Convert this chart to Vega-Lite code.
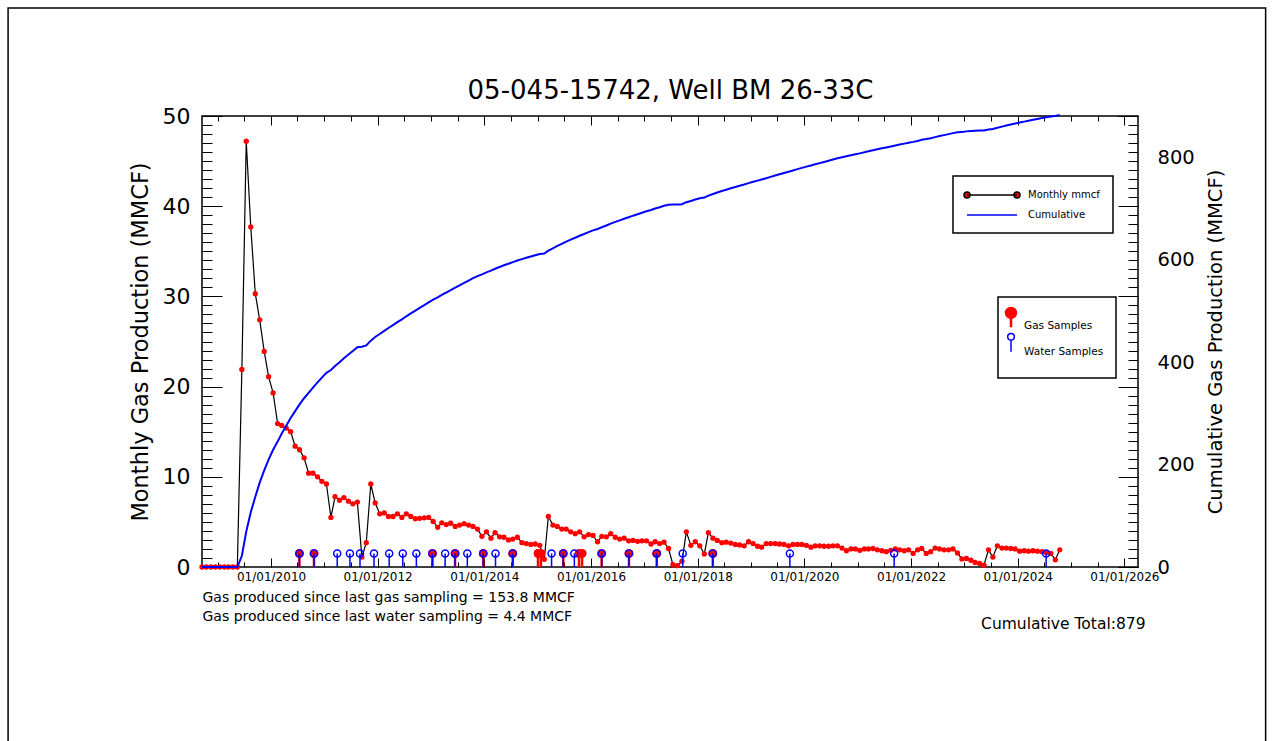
{
  "$schema": "https://vega.github.io/schema/vega-lite/v6.json",
  "width": 936,
  "height": 451,
  "autosize": {"type": "none"},
  "padding": {"left": 202, "top": 116, "right": 136, "bottom": 174},
  "background": "white",
  "datasets": {
    "m": [
      {"d":"2008-09-15","g":0,"c":0},{"d":"2008-10-15","g":0,"c":0},{"d":"2008-11-15","g":0,"c":0},{"d":"2008-12-15","g":0,"c":0},
      {"d":"2009-01-15","g":0,"c":0},{"d":"2009-02-15","g":0,"c":0},{"d":"2009-03-15","g":0,"c":0},{"d":"2009-04-15","g":0,"c":0},{"d":"2009-05-15","g":0,"c":0},
      {"d":"2009-06-15","g":21.9,"c":21.9},{"d":"2009-07-15","g":47.2,"c":69.1},{"d":"2009-08-15","g":37.7,"c":106.8},{"d":"2009-09-15","g":30.3,"c":137.1},
      {"d":"2009-10-15","g":27.4,"c":164.5},{"d":"2009-11-15","g":23.9,"c":188.4},{"d":"2009-12-15","g":21.1,"c":209.5},
      {"d":"2010-01-15","g":19.3,"c":228.8},{"d":"2010-02-15","g":15.9,"c":244.7},{"d":"2010-03-15","g":15.7,"c":260.4},{"d":"2010-04-15","g":15.4,"c":275.8},
      {"d":"2010-05-15","g":15.0,"c":290.8},{"d":"2010-06-15","g":13.4,"c":304.2},{"d":"2010-07-15","g":13.0,"c":317.2},{"d":"2010-08-15","g":12.1,"c":329.3},
      {"d":"2010-09-15","g":10.4,"c":339.7},{"d":"2010-10-15","g":10.4,"c":350.1},{"d":"2010-11-15","g":10.0,"c":360.1},{"d":"2010-12-15","g":9.5,"c":369.6},
      {"d":"2011-01-15","g":9.2,"c":378.8},{"d":"2011-02-15","g":5.5,"c":384.3},{"d":"2011-03-15","g":7.8,"c":392.1},{"d":"2011-04-15","g":7.4,"c":399.5},
      {"d":"2011-05-15","g":7.7,"c":407.2},{"d":"2011-06-15","g":7.3,"c":414.5},{"d":"2011-07-15","g":7.0,"c":421.5},{"d":"2011-08-15","g":7.2,"c":428.7},
      {"d":"2011-09-15","g":1.1,"c":429.8},{"d":"2011-10-15","g":2.7,"c":432.5},{"d":"2011-11-15","g":9.2,"c":441.7},{"d":"2011-12-15","g":7.1,"c":448.8},
      {"d":"2012-01-15","g":5.9,"c":454.7},{"d":"2012-02-15","g":6.0,"c":460.7},{"d":"2012-03-15","g":5.6,"c":466.3},{"d":"2012-04-15","g":5.6,"c":471.9},
      {"d":"2012-05-15","g":5.9,"c":477.8},{"d":"2012-06-15","g":5.5,"c":483.3},{"d":"2012-07-15","g":5.9,"c":489.2},{"d":"2012-08-15","g":5.6,"c":494.8},
      {"d":"2012-09-15","g":5.35,"c":500.2},{"d":"2012-10-15","g":5.4,"c":505.6},{"d":"2012-11-15","g":5.45,"c":511.0},{"d":"2012-12-15","g":5.5,"c":516.5},
      {"d":"2013-01-15","g":5.05,"c":521.6},{"d":"2013-02-15","g":4.4,"c":526.0},{"d":"2013-03-15","g":4.9,"c":530.9},{"d":"2013-04-15","g":4.7,"c":535.6},
      {"d":"2013-05-15","g":4.85,"c":540.4},{"d":"2013-06-15","g":4.5,"c":544.9},{"d":"2013-07-15","g":4.65,"c":549.6},{"d":"2013-08-15","g":4.8,"c":554.4},
      {"d":"2013-09-15","g":4.65,"c":559.0},{"d":"2013-10-15","g":4.5,"c":563.5},{"d":"2013-11-15","g":4.2,"c":567.7},{"d":"2013-12-15","g":3.4,"c":571.1},
      {"d":"2014-01-15","g":3.9,"c":575.0},{"d":"2014-02-15","g":3.2,"c":578.2},{"d":"2014-03-15","g":3.8,"c":582.0},{"d":"2014-04-15","g":3.35,"c":585.4},
      {"d":"2014-05-15","g":3.3,"c":588.7},{"d":"2014-06-15","g":3.0,"c":591.7},{"d":"2014-07-15","g":3.1,"c":594.8},{"d":"2014-08-15","g":3.3,"c":598.1},
      {"d":"2014-09-15","g":2.7,"c":600.8},{"d":"2014-10-15","g":2.6,"c":603.4},{"d":"2014-11-15","g":2.5,"c":605.9},{"d":"2014-12-15","g":2.55,"c":608.4},
      {"d":"2015-01-15","g":2.4,"c":610.8},{"d":"2015-02-15","g":0.85,"c":611.7},{"d":"2015-03-15","g":5.6,"c":617.3},{"d":"2015-04-15","g":4.65,"c":621.9},
      {"d":"2015-05-15","g":4.5,"c":626.4},{"d":"2015-06-15","g":4.2,"c":630.6},{"d":"2015-07-15","g":4.2,"c":634.8},{"d":"2015-08-15","g":3.9,"c":638.7},
      {"d":"2015-09-15","g":3.7,"c":642.4},{"d":"2015-10-15","g":3.9,"c":646.3},{"d":"2015-11-15","g":3.35,"c":649.7},{"d":"2015-12-15","g":3.6,"c":653.3},
      {"d":"2016-01-15","g":3.5,"c":656.8},{"d":"2016-02-15","g":2.8,"c":659.6},{"d":"2016-03-15","g":3.4,"c":663.0},{"d":"2016-04-15","g":3.35,"c":666.3},
      {"d":"2016-05-15","g":3.7,"c":670.0},{"d":"2016-06-15","g":3.3,"c":673.3},{"d":"2016-07-15","g":3.1,"c":676.4},{"d":"2016-08-15","g":3.2,"c":679.6},
      {"d":"2016-09-15","g":2.9,"c":682.5},{"d":"2016-10-15","g":2.95,"c":685.5},{"d":"2016-11-15","g":2.85,"c":688.3},{"d":"2016-12-15","g":2.9,"c":691.2},
      {"d":"2017-01-15","g":2.9,"c":694.1},{"d":"2017-02-15","g":2.55,"c":696.7},{"d":"2017-03-15","g":2.8,"c":699.5},{"d":"2017-04-15","g":2.6,"c":702.1},
      {"d":"2017-05-15","g":2.75,"c":704.8},{"d":"2017-06-15","g":2.05,"c":706.9},{"d":"2017-07-15","g":0.25,"c":707.1},{"d":"2017-08-15","g":0.15,"c":707.3},
      {"d":"2017-09-15","g":0.65,"c":707.9},{"d":"2017-10-15","g":3.9,"c":711.8},{"d":"2017-11-15","g":2.4,"c":714.2},{"d":"2017-12-15","g":2.8,"c":717.0},
      {"d":"2018-01-15","g":2.35,"c":719.4},{"d":"2018-02-15","g":1.45,"c":720.8},{"d":"2018-03-15","g":3.8,"c":724.6},{"d":"2018-04-15","g":3.2,"c":727.8},
      {"d":"2018-05-15","g":2.95,"c":730.8},{"d":"2018-06-15","g":2.7,"c":733.5},{"d":"2018-07-15","g":2.75,"c":736.2},{"d":"2018-08-15","g":2.65,"c":738.9},
      {"d":"2018-09-15","g":2.5,"c":741.4},{"d":"2018-10-15","g":2.45,"c":743.8},{"d":"2018-11-15","g":2.35,"c":746.2},{"d":"2018-12-15","g":2.8,"c":749.0},
      {"d":"2019-01-15","g":2.6,"c":751.6},{"d":"2019-02-15","g":2.3,"c":753.9},{"d":"2019-03-15","g":2.2,"c":756.1},{"d":"2019-04-15","g":2.6,"c":758.7},
      {"d":"2019-05-15","g":2.6,"c":761.3},{"d":"2019-06-15","g":2.6,"c":763.9},{"d":"2019-07-15","g":2.55,"c":766.4},{"d":"2019-08-15","g":2.5,"c":768.9},
      {"d":"2019-09-15","g":2.35,"c":771.3},{"d":"2019-10-15","g":2.5,"c":773.8},{"d":"2019-11-15","g":2.5,"c":776.3},{"d":"2019-12-15","g":2.5,"c":778.8},
      {"d":"2020-01-15","g":2.4,"c":781.2},{"d":"2020-02-15","g":2.2,"c":783.4},{"d":"2020-03-15","g":2.35,"c":785.7},{"d":"2020-04-15","g":2.35,"c":788.1},
      {"d":"2020-05-15","g":2.3,"c":790.4},{"d":"2020-06-15","g":2.3,"c":792.7},{"d":"2020-07-15","g":2.35,"c":795.0},{"d":"2020-08-15","g":2.35,"c":797.4},
      {"d":"2020-09-15","g":2.1,"c":799.5},{"d":"2020-10-15","g":1.8,"c":801.3},{"d":"2020-11-15","g":2.0,"c":803.3},{"d":"2020-12-15","g":2.0,"c":805.3},
      {"d":"2021-01-15","g":1.85,"c":807.1},{"d":"2021-02-15","g":2.0,"c":809.1},{"d":"2021-03-15","g":2.0,"c":811.1},{"d":"2021-04-15","g":2.05,"c":813.2},
      {"d":"2021-05-15","g":1.9,"c":815.1},{"d":"2021-06-15","g":1.8,"c":816.9},{"d":"2021-07-15","g":1.7,"c":818.6},{"d":"2021-08-15","g":1.85,"c":820.4},
      {"d":"2021-09-15","g":2.0,"c":822.4},{"d":"2021-10-15","g":1.9,"c":824.3},{"d":"2021-11-15","g":1.8,"c":826.1},{"d":"2021-12-15","g":1.9,"c":828.0},
      {"d":"2022-01-15","g":1.5,"c":829.5},{"d":"2022-02-15","g":1.9,"c":831.4},{"d":"2022-03-15","g":2.05,"c":833.5},{"d":"2022-04-15","g":1.5,"c":835.0},
      {"d":"2022-05-15","g":1.7,"c":836.7},{"d":"2022-06-15","g":2.1,"c":838.8},{"d":"2022-07-15","g":2.0,"c":840.8},{"d":"2022-08-15","g":1.9,"c":842.7},
      {"d":"2022-09-15","g":1.9,"c":844.6},{"d":"2022-10-15","g":2.0,"c":846.6},{"d":"2022-11-15","g":1.55,"c":848.1},{"d":"2022-12-15","g":0.9,"c":849.0},
      {"d":"2023-01-15","g":0.95,"c":850.0},{"d":"2023-02-15","g":0.75,"c":850.7},{"d":"2023-03-15","g":0.5,"c":851.2},{"d":"2023-04-15","g":0.4,"c":851.6},
      {"d":"2023-05-15","g":0.2,"c":851.8},{"d":"2023-06-15","g":1.9,"c":853.7},{"d":"2023-07-15","g":1.1,"c":854.8},{"d":"2023-08-15","g":2.35,"c":857.2},
      {"d":"2023-09-15","g":2.1,"c":859.3},{"d":"2023-10-15","g":2.1,"c":861.4},{"d":"2023-11-15","g":2.05,"c":863.4},{"d":"2023-12-15","g":2.0,"c":865.4},
      {"d":"2024-01-15","g":1.75,"c":867.2},{"d":"2024-02-15","g":1.8,"c":869.0},{"d":"2024-03-15","g":1.75,"c":870.7},{"d":"2024-04-15","g":1.8,"c":872.5},
      {"d":"2024-05-15","g":1.75,"c":874.3},{"d":"2024-06-15","g":1.7,"c":876.0},{"d":"2024-07-15","g":1.6,"c":877.6},{"d":"2024-08-15","g":1.5,"c":879.1},
      {"d":"2024-09-15","g":0.8,"c":879.9},{"d":"2024-10-15","g":1.9,"c":881.8}
    ],
    "gas": [
      {"d":"2010-07-14"},{"d":"2010-10-22"},{"d":"2013-01-10"},{"d":"2013-06-14"},{"d":"2013-12-24"},{"d":"2014-07-14"},
      {"d":"2015-01-03"},{"d":"2015-01-23"},{"d":"2015-06-25"},{"d":"2015-10-11"},{"d":"2015-11-01"},{"d":"2016-03-14"},
      {"d":"2016-09-17"},{"d":"2017-03-26"},{"d":"2018-04-14"}
    ],
    "water": [
      {"d":"2010-07-14"},{"d":"2010-10-22"},{"d":"2011-03-30"},{"d":"2011-06-25"},{"d":"2011-09-02"},{"d":"2011-12-07"},
      {"d":"2012-03-20"},{"d":"2012-06-21"},{"d":"2012-09-22"},{"d":"2013-01-10"},{"d":"2013-04-07"},{"d":"2013-06-14"},
      {"d":"2013-09-06"},{"d":"2013-12-24"},{"d":"2014-03-18"},{"d":"2014-07-14"},{"d":"2015-04-06"},{"d":"2015-06-25"},
      {"d":"2015-09-09"},{"d":"2016-03-14"},{"d":"2016-09-17"},{"d":"2017-03-26"},{"d":"2017-09-20"},{"d":"2018-04-14"},
      {"d":"2019-09-24"},{"d":"2021-09-07"},{"d":"2024-07-14"}
    ]
  },
  "layer": [
    {
      "data": {"values": [{}]},
      "mark": {"type": "rect", "filled": false, "stroke": "black", "strokeWidth": 1.5, "clip": false},
      "encoding": {
        "x": {"datum": {"year": 2005, "month": 1, "date": 26}, "type": "temporal", "scale": {"domain": [{"year": 2008, "month": 9, "date": 15}, {"year": 2026, "month": 4, "date": 4}]}, "axis": null},
        "x2": {"datum": {"year": 2028, "month": 8, "date": 25}},
        "y": {"datum": 61.97, "type": "quantitative", "scale": {"domain": [0, 50], "nice": false}, "axis": null},
        "y2": {"datum": -21.35}
      }
    },
    {
      "data": {"name": "m"},
      "mark": {"type": "line", "strokeWidth": 1.2},
      "encoding": {
        "x": {"field": "d", "type": "temporal", "scale": {"domain": [{"year": 2008, "month": 9, "date": 15}, {"year": 2026, "month": 4, "date": 4}]},
          "axis": {"orient": "bottom", "tickCount": {"interval": "year", "step": 2}, "format": "%m/%d/%Y", "tickSize": -9, "labelPadding": 13, "labelFontSize": 12, "labelFlush": false, "labelOverlap": false,
            "title": ["Gas produced since last gas sampling = 153.8 MMCF", "Gas produced since last water sampling = 4.4 MMCF"],
            "titleX": 0, "titleY": 23, "titleAlign": "left", "titleAnchor": "start", "titleBaseline": "top", "titleFontSize": 14, "titleLineHeight": 19}},
        "y": {"field": "g", "type": "quantitative", "scale": {"domain": [0, 50], "nice": false},
          "axis": {"orient": "left", "values": [0, 10, 20, 30, 40, 50], "tickSize": -20, "labelPadding": 32, "labelFontSize": 22, "title": "Monthly Gas Production (MMCF)", "titleFontSize": 22.5, "titlePadding": 10}},
        "color": {"datum": "Monthly mmcf", "scale": {"domain": ["Monthly mmcf", "Cumulative"], "range": ["black", "blue"]},
          "legend": {"orient": "none", "legendX": 751, "legendY": 60, "title": null, "padding": 13, "fillColor": "white", "strokeColor": "black",
            "symbolSize": 100, "symbolStrokeWidth": 1.5, "symbolOffset": 20, "labelOffset": 30, "labelFontSize": 10, "labelFont": "DejaVu Sans", "labelColor": "black", "rowPadding": 7,
            "encode": {
              "legend": {"update": {"strokeWidth": {"value": 1.5}}},
              "symbols": {"update": {
                "shape": {"signal": "datum.value === 'Monthly mmcf' ? 'M-5,0L5,0M-4.4,0A0.6,0.6,0,1,1,-5.6,0A0.6,0.6,0,1,1,-4.4,0ZM5.6,0A0.6,0.6,0,1,1,4.4,0A0.6,0.6,0,1,1,5.6,0Z' : 'M-5,0L5,0'"},
                "fill": {"signal": "datum.value === 'Monthly mmcf' ? 'red' : 'blue'"},
                "stroke": {"signal": "datum.value === 'Monthly mmcf' ? 'black' : 'blue'"}
              }}
            }}}
      }
    },
    {
      "data": {"name": "m"},
      "mark": {"type": "point", "filled": true, "color": "red", "size": 28, "opacity": 1},
      "encoding": {
        "x": {"field": "d", "type": "temporal", "scale": {"domain": [{"year": 2008, "month": 9, "date": 15}, {"year": 2026, "month": 4, "date": 4}]},
          "axis": {"orient": "bottom", "tickCount": {"interval": "month", "step": 6}, "labels": false, "tickSize": -5,
            "title": "Cumulative Total:879", "titleX": 943, "titleY": 56, "titleAlign": "right", "titleBaseline": "middle", "titleFontSize": 15.5}},
        "y": {"field": "g", "type": "quantitative", "scale": {"domain": [0, 50], "nice": false},
          "axis": {"orient": "left", "tickCount": 50, "labels": false, "tickSize": -10, "title": null}}
      }
    },
    {
      "data": {"name": "m"},
      "mark": {"type": "line", "strokeWidth": 2},
      "encoding": {
        "x": {"field": "d", "type": "temporal", "scale": {"domain": [{"year": 2008, "month": 9, "date": 15}, {"year": 2026, "month": 4, "date": 4}]},
          "axis": {"orient": "top", "tickCount": {"interval": "year", "step": 2}, "labels": false, "tickSize": -9,
            "title": "05-045-15742, Well BM 26-33C", "titleFontSize": 26, "titlePadding": 12, "titleAnchor": "middle"}},
        "y": {"field": "c", "type": "quantitative", "scale": {"domain": [0, 880], "nice": false},
          "axis": {"orient": "right", "values": [0, 200, 400, 600, 800], "ticks": false, "labelPadding": 19, "labelFontSize": 19.5,
            "title": "Cumulative Gas Production (MMCF)", "titleAngle": 270, "titleBaseline": "top", "titleFontSize": 19.5, "titlePadding": 12}},
        "color": {"datum": "Cumulative"}
      }
    },
    {
      "data": {"name": "gas"},
      "mark": {"type": "rule", "strokeWidth": 2.5},
      "encoding": {
        "x": {"field": "d", "type": "temporal", "scale": {"domain": [{"year": 2008, "month": 9, "date": 15}, {"year": 2026, "month": 4, "date": 4}]},
          "axis": {"orient": "top", "tickCount": {"interval": "month", "step": 6}, "labels": false, "tickSize": -5, "title": null}},
        "y": {"datum": 1.5, "type": "quantitative", "scale": {"domain": [0, 50], "nice": false},
          "axis": {"orient": "right", "values": [0, 10, 20, 30, 40, 50], "labels": false, "tickSize": -20, "title": null}},
        "y2": {"datum": 0},
        "stroke": {"datum": "Gas Samples", "scale": {"domain": ["Gas Samples", "Water Samples"], "range": ["red", "blue"]},
          "legend": {"orient": "none", "legendX": 796, "legendY": 181, "title": " ", "titleFontSize": 8, "titlePadding": 4, "padding": 12, "fillColor": "white", "strokeColor": "black",
            "symbolSize": 400, "symbolStrokeWidth": 1.5, "symbolOffset": -4.25, "labelOffset": 7.75, "labelFontSize": 10.5, "labelFont": "DejaVu Sans", "labelColor": "black", "rowPadding": -3.5,
            "encode": {
              "legend": {"update": {"strokeWidth": {"value": 1.5}}},
              "symbols": {"update": {
                "shape": {"signal": "datum.value === 'Gas Samples' ? 'M-0.5,-1.33A0.5,0.5,0,1,1,0.5,-1.33A0.5,0.5,0,1,1,-0.5,-1.33ZM0,-0.83L0,0.1' : 'M-0.33,-1.5A0.33,0.33,0,1,1,0.33,-1.5A0.33,0.33,0,1,1,-0.33,-1.5ZM0,-1.17L0,0M0,1.1'"},
                "fill": {"signal": "datum.value === 'Gas Samples' ? 'red' : 'transparent'"},
                "stroke": {"signal": "datum.value === 'Gas Samples' ? 'red' : 'blue'"},
                "strokeWidth": {"signal": "datum.value === 'Gas Samples' ? 2.5 : 1.5"}
              }}
            }}}
      }
    },
    {
      "data": {"name": "gas"},
      "mark": {"type": "point", "filled": true, "color": "red", "size": 80, "opacity": 1},
      "encoding": {
        "x": {"field": "d", "type": "temporal", "scale": {"domain": [{"year": 2008, "month": 9, "date": 15}, {"year": 2026, "month": 4, "date": 4}]}, "axis": null},
        "y": {"datum": 1.5, "type": "quantitative", "scale": {"domain": [0, 50], "nice": false},
          "axis": {"orient": "right", "tickCount": 50, "labels": false, "tickSize": -10, "title": null}}
      }
    },
    {
      "data": {"name": "water"},
      "mark": {"type": "rule", "strokeWidth": 1.5},
      "encoding": {
        "x": {"field": "d", "type": "temporal", "scale": {"domain": [{"year": 2008, "month": 9, "date": 15}, {"year": 2026, "month": 4, "date": 4}]}, "axis": null},
        "y": {"datum": 1.5, "type": "quantitative", "scale": {"domain": [0, 50], "nice": false}, "axis": null},
        "y2": {"datum": 0},
        "stroke": {"datum": "Water Samples"}
      }
    },
    {
      "data": {"name": "water"},
      "mark": {"type": "point", "filled": false, "color": "blue", "size": 50, "strokeWidth": 1.5, "opacity": 1},
      "encoding": {
        "x": {"field": "d", "type": "temporal", "scale": {"domain": [{"year": 2008, "month": 9, "date": 15}, {"year": 2026, "month": 4, "date": 4}]}, "axis": null},
        "y": {"datum": 1.5, "type": "quantitative", "scale": {"domain": [0, 50], "nice": false}, "axis": null}
      }
    }
  ],
  "resolve": {"scale": {"y": "independent"}, "axis": {"x": "independent", "y": "independent"}},
  "config": {
    "font": "DejaVu Sans",
    "view": {"stroke": "black", "strokeWidth": 1.5},
    "axis": {"labelFont": "DejaVu Sans", "titleFont": "DejaVu Sans", "labelColor": "black", "titleColor": "black", "tickColor": "black", "tickWidth": 1, "domain": false, "grid": false, "titleFontWeight": "normal"},
    "legend": {"labelFont": "DejaVu Sans"}
  }
}
